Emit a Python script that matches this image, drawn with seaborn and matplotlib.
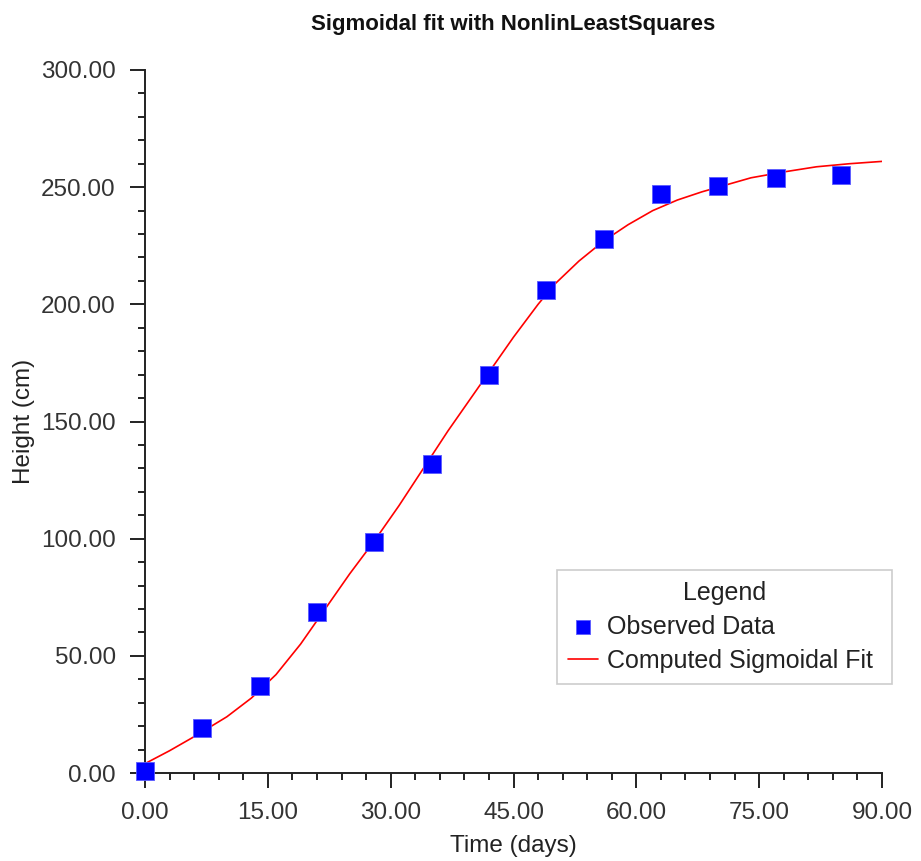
import numpy as np
import pandas as pd
import matplotlib
matplotlib.use("Agg")
import matplotlib.pyplot as plt
import seaborn as sns
from matplotlib.ticker import MultipleLocator, FormatStrFormatter

# observed heights
days = [0, 7, 14, 21, 28, 35, 42, 49, 56, 63, 70, 77, 85]
height = [1, 19, 37, 68.5, 98.5, 132, 170, 206, 228, 247, 250.5, 254, 255]

# fitted sigmoid curve
fit_days = [0, 3, 6, 10, 13, 16, 19, 22, 25, 28, 31, 34, 37, 40, 42, 45, 48, 50,
            53, 56, 59, 62, 65, 68, 71, 74, 78, 82, 86, 90]
fit_height = [4, 9.5, 15.5, 24, 32, 42, 55, 70, 85, 99, 114, 130, 146, 161, 171,
              186, 200, 208.5, 218.5, 227, 234, 240, 244.5, 248, 251, 254, 256.5, 258.7, 260, 261]

obs = pd.DataFrame({"Time": days, "Height": height})
fit = pd.DataFrame({"Time": fit_days, "Height": fit_height})

sns.set_theme(style="white")
plt.rcParams["font.family"] = ["Liberation Sans", "DejaVu Sans"]

fig = plt.figure(figsize=(9.21, 8.61), dpi=100)
ax = fig.add_axes([0.1574, 0.1022, 0.8003, 0.8165])

sns.lineplot(data=fit, x="Time", y="Height", color="#ff0000", linewidth=1.2,
             ax=ax, label="Computed Sigmoidal Fit", zorder=2)
sns.scatterplot(data=obs, x="Time", y="Height", marker="s", s=170, color="#0000ff",
                edgecolor="#5a5aff", linewidth=0.6, ax=ax, label="Observed Data",
                zorder=3, clip_on=False)

ax.set_xlim(0, 90)
ax.set_ylim(0, 300)
ax.xaxis.set_major_locator(MultipleLocator(15))
ax.xaxis.set_minor_locator(MultipleLocator(3))
ax.yaxis.set_major_locator(MultipleLocator(50))
ax.yaxis.set_minor_locator(MultipleLocator(10))
ax.xaxis.set_major_formatter(FormatStrFormatter("%.2f"))
ax.yaxis.set_major_formatter(FormatStrFormatter("%.2f"))

for s in ["top", "right"]:
    ax.spines[s].set_visible(False)
for s in ["left", "bottom"]:
    ax.spines[s].set_color("#222222")
    ax.spines[s].set_linewidth(1.4)

ax.tick_params(which="major", direction="out", length=11, width=1.4, color="#222222",
               labelsize=17.5, labelcolor="#333333", pad=10, left=True, bottom=True)
ax.tick_params(which="minor", direction="out", length=5, width=1.4, color="#222222",
               left=True, bottom=True)

ax.set_xlabel("Time (days)", fontsize=17.5, color="#222222", labelpad=8)
ax.set_ylabel("Height (cm)", fontsize=17.5, color="#222222")
ax.yaxis.set_label_coords(-0.149, 0.5)
ax.set_title("Sigmoidal fit with NonlinLeastSquares", fontsize=16, fontweight="bold",
             color="#111111", pad=29)

handles, labels = ax.get_legend_handles_labels()
order = [labels.index("Observed Data"), labels.index("Computed Sigmoidal Fit")]
leg = ax.legend([handles[i] for i in order], [labels[i] for i in order],
                title="Legend", loc="lower left",
                bbox_to_anchor=(0.559, 0.1266, 0.4545, 0.1622), mode="expand",
                borderaxespad=0, fontsize=18, title_fontsize=18, frameon=True,
                fancybox=False, edgecolor="#c0c0c0", handlelength=1.2,
                handletextpad=0.35, markerscale=0.8, labelspacing=0.4,
                borderpad=0.45)
leg.get_frame().set_linewidth(1.2)
leg.set_clip_on(False)
leg.get_title().set_color("#222222")
for t in leg.get_texts():
    t.set_color("#222222")

fig.savefig("out.png", dpi=100)
